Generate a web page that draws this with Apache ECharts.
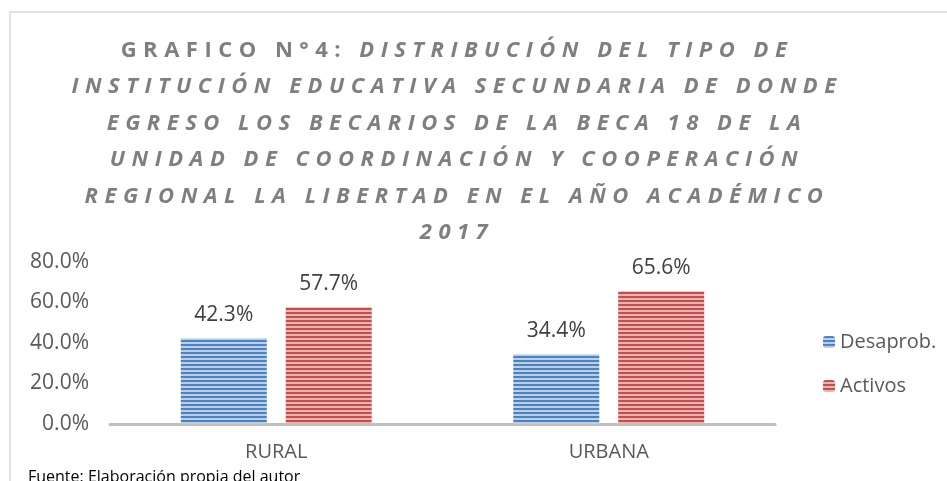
<!DOCTYPE html>
<html>
<head>
<meta charset="utf-8">
<script src="https://cdn.jsdelivr.net/npm/echarts@6/dist/echarts.min.js"></script>
<style>
  html, body { margin: 0; padding: 0; background: #fff; }
  #chart { width: 947px; height: 481px; }
</style>
</head>
<body>
<div id="chart"></div>
<script>
  // datos del grafico
  const categorias = ['RURAL', 'URBANA'];
  const desaprobados = [42.3, 34.4];
  const activos = [57.7, 65.6];
  const ticks = [0, 20, 40, 60, 80];

  // el titulo de Excel va con letras espaciadas: solo para texto en negrita
  ['fillText', 'measureText'].forEach(function (fn) {
    const orig = CanvasRenderingContext2D.prototype[fn];
    CanvasRenderingContext2D.prototype[fn] = function () {
      this.letterSpacing = this.font.indexOf('bold') >= 0 ? '6.5px' : '0px';
      return orig.apply(this, arguments);
    };
  });

  // relleno a rayas horizontales
  function rayas(oscuro, claro) {
    const c = document.createElement('canvas');
    c.width = 4; c.height = 4;
    const ctx = c.getContext('2d');
    ctx.fillStyle = claro;
    ctx.fillRect(0, 0, 4, 4);
    ctx.fillStyle = oscuro;
    ctx.fillRect(0, 0, 4, 2);
    return { image: c, repeat: 'repeat' };
  }

  const font = '"Open Sans", "Liberation Sans", sans-serif';
  const myChart = echarts.init(document.getElementById('chart'));

  myChart.setOption({
    animation: false,
    title: {
      text: '{a|GRAFICO N°4:} DISTRIBUCIÓN DEL TIPO DE\n' +
        'INSTITUCIÓN EDUCATIVA SECUNDARIA DE DONDE\n' +
        'EGRESO LOS BECARIOS DE LA BECA 18 DE LA\n' +
        'UNIDAD DE COORDINACIÓN Y COOPERACIÓN\n' +
        'REGIONAL LA LIBERTAD EN EL AÑO ACADÉMICO\n' +
        '2017',
      left: 452,
      textAlign: 'center',
      top: 27,
      textStyle: {
        fontFamily: font,
        fontSize: 22,
        fontWeight: 'bold',
        fontStyle: 'italic',
        color: '#7f7f7f',
        lineHeight: 36.5,
        rich: {
          a: {
            fontFamily: font,
            fontSize: 22,
            fontWeight: 'bold',
            fontStyle: 'normal',
            color: '#7f7f7f',
            lineHeight: 36.5
          }
        }
      }
    },
    legend: {
      orient: 'vertical',
      left: 818,
      top: 327,
      itemWidth: 12,
      itemHeight: 12,
      itemGap: 24,
      textStyle: { fontFamily: font, fontSize: 20, color: '#595959' },
      data: ['Desaprob.', 'Activos']
    },
    grid: { left: 110, right: 172, top: 262, bottom: 57 },
    xAxis: {
      type: 'category',
      data: categorias,
      axisLine: { lineStyle: { color: '#bfbfbf', width: 3 } },
      axisTick: { show: false },
      axisLabel: { fontFamily: font, fontSize: 20, color: '#595959', margin: 18 }
    },
    yAxis: {
      type: 'value',
      min: ticks[0],
      max: ticks[ticks.length - 1],
      interval: 20,
      splitLine: { show: false },
      axisLabel: {
        fontFamily: font, fontSize: 21, color: '#595959', margin: 21,
        formatter: function (v) { return v.toFixed(1) + '%'; }
      }
    },
    series: [
      {
        name: 'Desaprob.',
        type: 'bar',
        data: desaprobados,
        barWidth: 86,
        barGap: '22%',
        itemStyle: { color: rayas('#4f81bd', '#b9cfea') },
        label: {
          show: true, position: 'top', distance: 13,
          fontFamily: font, fontSize: 21, color: '#404040',
          formatter: function (p) { return p.value.toFixed(1) + '%'; }
        }
      },
      {
        name: 'Activos',
        type: 'bar',
        data: activos,
        barWidth: 86,
        itemStyle: { color: rayas('#c0504d', '#ebb3b2') },
        label: {
          show: true, position: 'top', distance: 13,
          fontFamily: font, fontSize: 21, color: '#404040',
          formatter: function (p) { return p.value.toFixed(1) + '%'; }
        }
      }
    ],
    graphic: [
      {
        type: 'rect',
        shape: { x: 10, y: 12, width: 1000, height: 1000 },
        style: { fill: 'none', stroke: '#d9d9d9', lineWidth: 1.5 },
        silent: true
      },
      {
        type: 'text',
        left: 28,
        top: 469,
        style: { text: 'Fuente: Elaboración propia del autor', font: '16px ' + font, fill: '#000' }
      }
    ]
  });
</script>
</body>
</html>
